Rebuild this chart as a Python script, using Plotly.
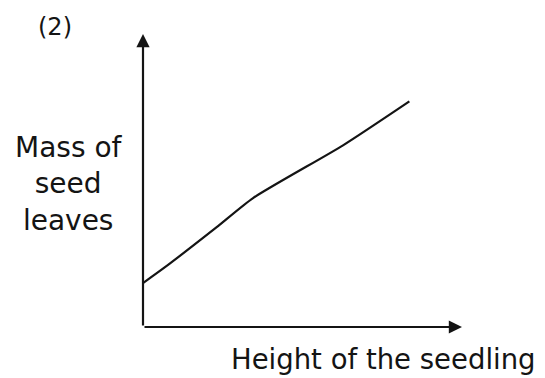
import plotly.graph_objects as go

# Data (arbitrary units, axes have no ticks)
height_vals = [0.0, 0.7, 2.3, 3.45, 6.27, 8.35]
mass_vals = [1.5, 2.05, 3.4, 4.4, 6.2, 7.7]

panel_label = "(2)"
y_title = "Mass of<br>seed<br>leaves"
x_title = "Height of the seedling"

ink = "#141414"
font_family = "DejaVu Sans"

fig = go.Figure()
fig.add_trace(go.Scatter(
    x=height_vals, y=mass_vals, mode="lines",
    line=dict(color=ink, width=2.2, shape="spline", smoothing=0.6),
    hoverinfo="skip", showlegend=False,
))

# Axes drawn as arrows
fig.add_annotation(x=0, y=10, ax=0, ay=0, xref="x", yref="y", axref="x", ayref="y",
                   showarrow=True, arrowhead=2, arrowsize=1.2, arrowwidth=2.2,
                   arrowcolor=ink, text="", standoff=0)
fig.add_annotation(x=10, y=0, ax=0, ay=0, xref="x", yref="y", axref="x", ayref="y",
                   showarrow=True, arrowhead=2, arrowsize=1.2, arrowwidth=2.2,
                   arrowcolor=ink, text="", standoff=0)

fig.add_annotation(text=panel_label, xref="paper", yref="paper", x=-0.276, y=1.024,
                   showarrow=False, xanchor="center", yanchor="middle",
                   font=dict(family=font_family, size=24, color=ink))
fig.add_annotation(text=y_title, xref="paper", yref="paper", x=-0.232, y=0.488,
                   showarrow=False, xanchor="center", yanchor="middle", align="center",
                   font=dict(family=font_family, size=28, color=ink))
fig.add_annotation(text=x_title, xref="paper", yref="paper", x=0.753, y=-0.11,
                   showarrow=False, xanchor="center", yanchor="middle",
                   font=dict(family=font_family, size=27.5, color=ink))

axis_common = dict(showgrid=False, zeroline=False, showticklabels=False, ticks="",
                   showline=False, fixedrange=True)
fig.update_xaxes(range=[0, 10], **axis_common)
fig.update_yaxes(range=[0, 10], **axis_common)

# Page body has an 8px default margin, so the figure is offset accordingly
fig.update_layout(
    width=537, height=370,
    margin=dict(l=135, r=83, t=26, b=51),
    paper_bgcolor="white", plot_bgcolor="white",
    showlegend=False,
)

fig.write_html("out.html", config={"displayModeBar": False})
